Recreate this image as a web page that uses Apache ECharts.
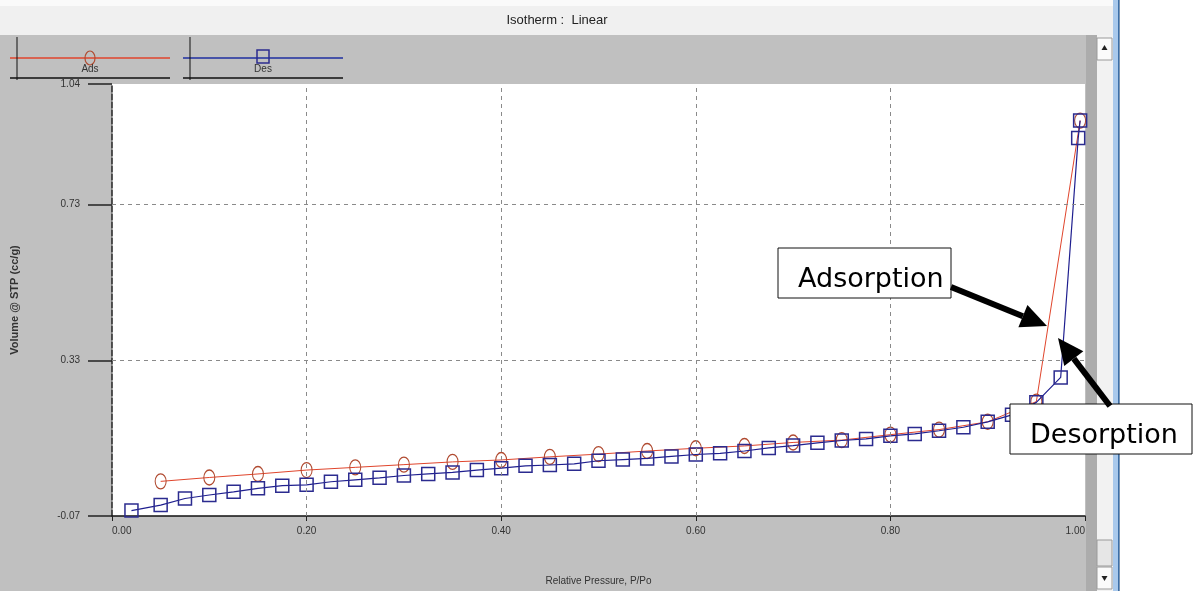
<!DOCTYPE html>
<html>
<head>
<meta charset="utf-8">
<script src="https://cdn.jsdelivr.net/npm/echarts@6/dist/echarts.min.js"></script>
<style>
  html, body { margin: 0; padding: 0; background: #fff; }
  #chart { width: 1200px; height: 591px; }
</style>
</head>
<body>
<div id="chart"></div>
<script>
// relative pressure P/Po and volume (cc/g)
const adsX = [0.05, 0.10, 0.15, 0.20, 0.25, 0.30, 0.35, 0.40, 0.45, 0.50, 0.55, 0.60, 0.65, 0.70, 0.75, 0.80, 0.85, 0.90, 0.95, 0.995];
const adsY = [0.019, 0.029, 0.038, 0.048, 0.055, 0.062, 0.069, 0.074, 0.082, 0.089, 0.097, 0.104, 0.110, 0.119, 0.125, 0.139, 0.152, 0.172, 0.224, 0.946];

const desX = [0.02, 0.05, 0.075, 0.10, 0.125, 0.15, 0.175, 0.20, 0.225, 0.25, 0.275, 0.30, 0.325, 0.35, 0.375, 0.40, 0.425, 0.45, 0.475, 0.50,
  0.525, 0.55, 0.575, 0.60, 0.625, 0.65, 0.675, 0.70, 0.725, 0.75, 0.775, 0.80, 0.825, 0.85, 0.875, 0.90, 0.925, 0.95, 0.975, 0.993, 0.995];
const desY = [-0.056, -0.042, -0.025, -0.016, -0.008, 0.001, 0.008, 0.010, 0.018, 0.023, 0.028, 0.034, 0.038, 0.042, 0.048, 0.053, 0.059, 0.061, 0.064, 0.072,
  0.075, 0.078, 0.083, 0.088, 0.091, 0.097, 0.105, 0.111, 0.118, 0.124, 0.128, 0.136, 0.141, 0.149, 0.158, 0.172, 0.190, 0.222, 0.286, 0.901, 0.946];

const yTicks = [-0.07, 0.33, 0.73, 1.04];
const gridY = [0.33, 0.73];
const gridX = [0.2, 0.4, 0.6, 0.8];

const FONT = "'Liberation Sans', Arial, sans-serif";
const NARROW = "'Liberation Sans Narrow', 'Liberation Sans', Arial, sans-serif";

const pairs = (xs, ys) => xs.map((x, i) => [x, ys[i]]);

const gridLines = () => {
  return gridY.map(v => ({ yAxis: v })).concat(gridX.map(v => ({ xAxis: v })));
};

const arrow = (x1, y1, tx, ty) => {
  const dx = tx - x1, dy = ty - y1;
  const len = Math.sqrt(dx * dx + dy * dy);
  const ux = dx / len, uy = dy / len;
  const bx = tx - 26 * ux, by = ty - 26 * uy;
  return [
    { type: 'line', shape: { x1: x1, y1: y1, x2: bx, y2: by }, style: { stroke: '#000', lineWidth: 6 }, z: 100 },
    { type: 'polygon', shape: { points: [[tx, ty], [bx - 12 * uy, by + 12 * ux], [bx + 12 * uy, by - 12 * ux]] }, style: { fill: '#000' }, z: 100 }
  ];
};

const legendItem = (x0, name, color, markColor, shape) => {
  const mid = x0 + 80;
  const mark = shape === 'circle'
    ? { type: 'ellipse', shape: { cx: mid, cy: 58, rx: 5, ry: 7 }, style: { fill: 'none', stroke: markColor, lineWidth: 1.2 } }
    : { type: 'rect', shape: { x: mid - 6, y: 50, width: 12, height: 13 }, style: { fill: 'none', stroke: markColor, lineWidth: 1.5 } };
  return [
    { type: 'line', shape: { x1: x0, y1: 58, x2: x0 + 160, y2: 58 }, style: { stroke: color, lineWidth: 1.5 } },
    mark,
    { type: 'text', style: { text: name, x: mid, y: 69, align: 'center', verticalAlign: 'middle', font: '10px ' + FONT, fill: '#333' } },
    { type: 'line', shape: { x1: x0 + 7, y1: 37, x2: x0 + 7, y2: 80 }, style: { stroke: '#111', lineWidth: 1 } },
    { type: 'line', shape: { x1: x0, y1: 78, x2: x0 + 160, y2: 78 }, style: { stroke: '#111', lineWidth: 1.5 } }
  ];
};

const chart = echarts.init(document.getElementById('chart'));

const option = {
  animation: false,
  backgroundColor: '#c0c0c0',
  grid: {
    left: 112, right: 115, top: 84, bottom: 74,
    show: true, backgroundColor: '#fff', borderWidth: 0
  },
  xAxis: {
    type: 'value',
    min: 0, max: 1, interval: 0.2,
    name: 'Relative Pressure, P/Po',
    nameLocation: 'middle',
    nameGap: 60,
    nameTextStyle: { fontSize: 10, color: '#333', fontFamily: FONT },
    axisLine: { show: true, onZero: false, lineStyle: { color: '#111', width: 1.5 } },
    axisTick: { show: true, length: 5, lineStyle: { color: '#222' } },
    axisLabel: {
      formatter: v => v.toFixed(2),
      fontSize: 10, color: '#333', fontFamily: FONT, margin: 10,
      alignMinLabel: 'left', alignMaxLabel: 'right'
    },
    splitLine: { show: false }
  },
  yAxis: {
    type: 'value',
    min: -0.07, max: 1.04,
    name: 'Volume @ STP (cc/g)',
    nameLocation: 'middle',
    nameRotate: 90,
    nameGap: 92,
    nameTextStyle: { fontSize: 11, color: '#333', fontFamily: FONT, fontWeight: 'bold' },
    axisLine: { show: true, onZero: false, lineStyle: { color: '#222', width: 1.5, type: [6, 2] } },
    axisTick: { show: true, customValues: yTicks, length: 24, lineStyle: { color: '#222', width: 1.5 } },
    axisLabel: {
      customValues: yTicks,
      formatter: v => v.toFixed(2),
      fontSize: 10, color: '#333', fontFamily: FONT, margin: 32
    },
    splitLine: { show: false }
  },
  series: [
    {
      name: 'Ads',
      type: 'line',
      data: pairs(adsX, adsY),
      symbol: 'circle',
      symbolSize: [11, 15],
      itemStyle: { color: 'rgba(0,0,0,0)', borderColor: '#b04a30', borderWidth: 1.2 },
      lineStyle: { color: '#e0452c', width: 1 },
      z: 3,
      markLine: {
        silent: true,
        symbol: 'none',
        label: { show: false },
        lineStyle: { color: '#8a8a8a', type: [4, 4], width: 1 },
        data: gridLines()
      }
    },
    {
      name: 'Des',
      type: 'line',
      data: pairs(desX, desY),
      symbol: 'rect',
      symbolSize: 13,
      itemStyle: { color: 'rgba(0,0,0,0)', borderColor: '#2b2b8f', borderWidth: 1.5 },
      lineStyle: { color: '#1f1f8f', width: 1.2 },
      z: 4
    }
  ],
  graphic: [
    // window header strip and title
    { type: 'rect', shape: { x: 0, y: 0, width: 1114, height: 35 }, style: { fill: '#f0f0f0' }, z: 1 },
    { type: 'rect', shape: { x: 0, y: 0, width: 1114, height: 6 }, style: { fill: '#fafafa' }, z: 1 },
    { type: 'text', style: { text: 'Isotherm :  Linear', x: 557, y: 20, align: 'center', verticalAlign: 'middle', font: '13px ' + NARROW, fill: '#222' }, z: 2 },
    // legend
    ...legendItem(10, 'Ads', '#e0452c', '#b04a30', 'circle'),
    ...legendItem(183, 'Des', '#1f2fa0', '#2b2b8f', 'rect'),
    // scroll bar and window edge
    { type: 'rect', shape: { x: 1086, y: 35, width: 11, height: 556 }, style: { fill: '#acacac' }, z: 1 },
    { type: 'rect', shape: { x: 1097, y: 35, width: 16, height: 556 }, style: { fill: '#f2f2f2' }, z: 1 },
    { type: 'rect', shape: { x: 1097, y: 38, width: 15, height: 22 }, style: { fill: '#fbfbfb', stroke: '#9a9a9a', lineWidth: 1 }, z: 2 },
    { type: 'polygon', shape: { points: [[1104.5, 45], [1101.5, 50], [1107.5, 50]] }, style: { fill: '#222' }, z: 3 },
    { type: 'rect', shape: { x: 1097, y: 540, width: 15, height: 26 }, style: { fill: '#e6e6e6', stroke: '#9a9a9a', lineWidth: 1 }, z: 2 },
    { type: 'rect', shape: { x: 1097, y: 567, width: 15, height: 22 }, style: { fill: '#fbfbfb', stroke: '#9a9a9a', lineWidth: 1 }, z: 2 },
    { type: 'polygon', shape: { points: [[1104.5, 581], [1101.5, 576], [1107.5, 576]] }, style: { fill: '#222' }, z: 3 },
    { type: 'rect', shape: { x: 1113, y: 0, width: 5, height: 591 }, style: { fill: '#a9c9ec' }, z: 1 },
    { type: 'rect', shape: { x: 1118, y: 0, width: 1.5, height: 591 }, style: { fill: '#3c6fa8' }, z: 1 },
    { type: 'rect', shape: { x: 1120, y: 0, width: 80, height: 591 }, style: { fill: '#ffffff' }, z: 1 },
    // annotations
    { type: 'rect', shape: { x: 778, y: 248, width: 173, height: 50 }, style: { fill: '#fff', stroke: '#111', lineWidth: 1 }, z: 99 },
    { type: 'text', style: { text: 'Adsorption', x: 798, y: 280, verticalAlign: 'middle', font: '27px "DejaVu Sans", Verdana, sans-serif', fill: '#000' }, z: 100 },
    ...arrow(951, 287, 1047, 326),
    { type: 'rect', shape: { x: 1010, y: 404, width: 182, height: 50 }, style: { fill: '#fff', stroke: '#111', lineWidth: 1 }, z: 99 },
    { type: 'text', style: { text: 'Desorption', x: 1030, y: 436, verticalAlign: 'middle', font: '27px "DejaVu Sans", Verdana, sans-serif', fill: '#000' }, z: 100 },
    ...arrow(1110, 406, 1058, 338)
  ]
};

chart.setOption(option);
</script>
</body>
</html>
